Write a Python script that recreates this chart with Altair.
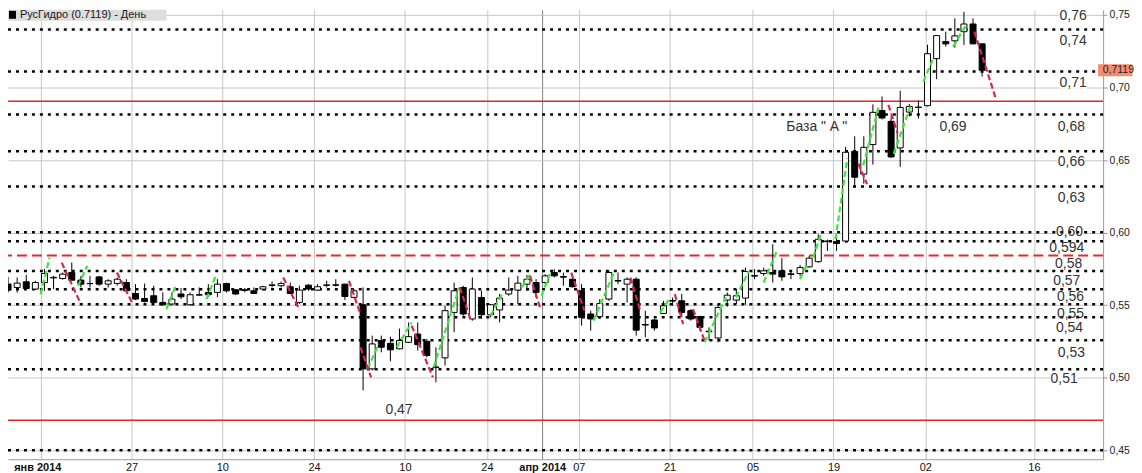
import json
import altair as alt
import pandas as pd

# ---------------- candles (one per trading session, left to right) ----------------
opens = [0.5646, 0.5622, 0.5661, 0.5611, 0.5656, 0.5688, 0.5684, 0.5725, 0.5673, 0.5650,
         0.5695, 0.5645, 0.5650, 0.5656, 0.5581, 0.5546, 0.5565, 0.5519, 0.5508, 0.5577,
         0.5503, 0.5569, 0.5588, 0.5588, 0.5649, 0.5606, 0.5606, 0.5599, 0.5611, 0.5636,
         0.5634, 0.5627, 0.5519, 0.5638, 0.5604, 0.5636, 0.5640, 0.5645, 0.5554, 0.5503,
         0.5061, 0.5256, 0.5237, 0.5199, 0.5244, 0.5301, 0.5251, 0.5070, 0.5137, 0.5450,
         0.5622, 0.5405, 0.5553, 0.5434, 0.5467, 0.5577, 0.5604, 0.5645, 0.5656, 0.5656,
         0.5725, 0.5697, 0.5679, 0.5599, 0.5439, 0.5421, 0.5542, 0.5670, 0.5645, 0.5679,
         0.5367, 0.5398, 0.5443, 0.5528, 0.5530, 0.5462, 0.5421, 0.5317, 0.5274, 0.5535,
         0.5535, 0.5549, 0.5700, 0.5718, 0.5725, 0.5737, 0.5716, 0.5718, 0.5764, 0.5800,
         0.5942, 0.5938, 0.5942, 0.6560, 0.6403, 0.6607, 0.6842, 0.6767, 0.6584, 0.6831,
         0.6863, 0.6875, 0.7199, 0.7317, 0.7322, 0.7385, 0.7438, 0.7301]
highs = [0.5695, 0.5691, 0.5709, 0.5668, 0.5750, 0.5702, 0.5725, 0.5794, 0.5702, 0.5702,
         0.5702, 0.5679, 0.5691, 0.5679, 0.5645, 0.5649, 0.5634, 0.5588, 0.5588, 0.5618,
         0.5588, 0.5622, 0.5645, 0.5679, 0.5656, 0.5611, 0.5618, 0.5622, 0.5634, 0.5663,
         0.5663, 0.5656, 0.5634, 0.5645, 0.5645, 0.5668, 0.5679, 0.5647, 0.5611, 0.5622,
         0.5290, 0.5290, 0.5283, 0.5338, 0.5381, 0.5381, 0.5267, 0.5210, 0.5496, 0.5656,
         0.5634, 0.5691, 0.5599, 0.5508, 0.5577, 0.5691, 0.5702, 0.5709, 0.5679, 0.5714,
         0.5748, 0.5725, 0.5709, 0.5645, 0.5462, 0.5542, 0.5737, 0.5725, 0.5691, 0.5691,
         0.5462, 0.5405, 0.5530, 0.5553, 0.5577, 0.5473, 0.5427, 0.5347, 0.5508, 0.5588,
         0.5611, 0.5759, 0.5748, 0.5759, 0.5920, 0.5824, 0.5737, 0.5778, 0.5840, 0.5988,
         0.5952, 0.5966, 0.6591, 0.6664, 0.6664, 0.6884, 0.6939, 0.6801, 0.6978, 0.6886,
         0.6911, 0.7295, 0.7360, 0.7385, 0.7477, 0.7522, 0.7477, 0.7303]
lows = [0.5587, 0.5587, 0.5613, 0.5604, 0.5599, 0.5611, 0.5675, 0.5670, 0.5622, 0.5622,
        0.5634, 0.5622, 0.5634, 0.5597, 0.5535, 0.5519, 0.5512, 0.5496, 0.5496, 0.5542,
        0.5496, 0.5565, 0.5558, 0.5554, 0.5588, 0.5570, 0.5588, 0.5577, 0.5599, 0.5622,
        0.5622, 0.5577, 0.5508, 0.5599, 0.5599, 0.5622, 0.5627, 0.5535, 0.5549, 0.4912,
        0.5050, 0.5175, 0.5113, 0.5196, 0.5240, 0.5187, 0.5141, 0.4969, 0.5084, 0.5313,
        0.5427, 0.5393, 0.5405, 0.5416, 0.5381, 0.5565, 0.5508, 0.5599, 0.5554, 0.5645,
        0.5691, 0.5634, 0.5622, 0.5359, 0.5324, 0.5405, 0.5530, 0.5645, 0.5519, 0.5290,
        0.5279, 0.5324, 0.5439, 0.5496, 0.5416, 0.5393, 0.5324, 0.5256, 0.5244, 0.5489,
        0.5508, 0.5503, 0.5679, 0.5702, 0.5656, 0.5668, 0.5679, 0.5702, 0.5759, 0.5793,
        0.5874, 0.5874, 0.5931, 0.6309, 0.6337, 0.6469, 0.6780, 0.6515, 0.6453, 0.6801,
        0.6786, 0.6870, 0.7058, 0.7282, 0.7274, 0.7294, 0.7299, 0.7076]
closes = [0.5604, 0.5652, 0.5615, 0.5656, 0.5718, 0.5692, 0.5714, 0.5672, 0.5645, 0.5648,
          0.5645, 0.5668, 0.5679, 0.5599, 0.5542, 0.5526, 0.5519, 0.5503, 0.5542, 0.5558,
          0.5572, 0.5572, 0.5572, 0.5645, 0.5599, 0.5577, 0.5602, 0.5581, 0.5627, 0.5640,
          0.5649, 0.5581, 0.5604, 0.5611, 0.5627, 0.5640, 0.5638, 0.5560, 0.5599, 0.5061,
          0.5233, 0.5210, 0.5192, 0.5256, 0.5283, 0.5228, 0.5153, 0.5074, 0.5462, 0.5599,
          0.5439, 0.5611, 0.5434, 0.5503, 0.5549, 0.5604, 0.5652, 0.5679, 0.5588, 0.5702,
          0.5702, 0.5693, 0.5627, 0.5416, 0.5405, 0.5512, 0.5725, 0.5666, 0.5679, 0.5328,
          0.5363, 0.5343, 0.5496, 0.5532, 0.5450, 0.5405, 0.5347, 0.5321, 0.5484, 0.5569,
          0.5565, 0.5732, 0.5704, 0.5737, 0.5714, 0.5695, 0.5712, 0.5759, 0.5824, 0.5954,
          0.5938, 0.5925, 0.6554, 0.6382, 0.6588, 0.6829, 0.6790, 0.6522, 0.6863, 0.6870,
          0.6865, 0.7233, 0.7358, 0.7301, 0.7356, 0.7438, 0.7301, 0.7119]

# ---------------- date axis (positions in session numbers) ----------------
grid_pos = [3.58, 13.56, 23.54, 33.62, 43.60, 52.60, 58.68, 62.69, 72.67, 81.78, 90.67, 100.76, 112.69]
grid_lab = ["янв 2014", "27", "10", "24", "10", "24", "апр 2014", "07", "21", "05", "19", "02", "16"]

# ---------------- drawn price levels ----------------
level_prices = [0.7586, 0.7400, 0.7110, 0.6814, 0.6561, 0.6318, 0.6003, 0.5940, 0.5735,
                0.5609, 0.5506, 0.5416, 0.5258, 0.5058, 0.4500]
red_solid = [0.6906, 0.4707]
red_dashed = [0.5843]

lab_text = ["0,76", "0,74", "0,71", "0,68", "0,66", "0,63", "0,60", "0,594", "0,58", "0,57",
            "0,56", "0,55", "0,54", "0,53", "0,51"]
lab_i = [117.0, 117.0, 117.0, 116.8, 116.8, 116.8, 116.6, 116.3, 116.5, 116.3, 116.7, 116.7,
         116.6, 116.8, 116.0]
lab_p = [0.7494, 0.7323, 0.7034, 0.6725, 0.6485, 0.6238, 0.6004, 0.5894, 0.5784, 0.5668,
         0.5558, 0.5441, 0.5345, 0.5173, 0.4988]

note_text = ['База " A "', "0,69", "0,47"]
note_i = [88.83, 103.8, 42.94]
note_p = [0.6725, 0.6725, 0.4775]

# ---------------- swing segments ----------------
seg_dir = ["up", "down", "up", "down", "up", "up", "down", "down", "down", "up",
           "up", "down", "up", "down", "up", "up", "down", "up", "down", "up",
           "down", "up", "down", "down", "up", "up", "up", "up", "up", "up",
           "down", "up", "down", "up", "up", "up", "down"]
seg_i1 = [3.58, 5.89, 7.70, 11.96, 17.39, 21.80, 30.23, 37.45, 38.72, 39.51,
          42.70, 44.33, 46.75, 49.64, 53.00, 56.43, 57.34, 58.60, 61.86, 64.32,
          68.36, 71.62, 73.24, 75.24, 76.50, 79.93, 83.00, 86.98, 88.43, 90.89,
          93.38, 93.93, 96.70, 97.29, 100.54, 103.80, 106.15]
seg_p1 = [0.5576, 0.5793, 0.5633, 0.5725, 0.5473, 0.5542, 0.5690, 0.5668, 0.5209, 0.5061,
          0.5209, 0.5359, 0.5072, 0.5622, 0.5427, 0.5622, 0.5702, 0.5565, 0.5725, 0.5393,
          0.5690, 0.5450, 0.5576, 0.5473, 0.5244, 0.5553, 0.5656, 0.5679, 0.5828, 0.5956,
          0.6478, 0.6464, 0.6881, 0.6543, 0.7041, 0.7282, 0.7385]
seg_i2 = [4.56, 7.92, 8.71, 13.70, 18.41, 22.81, 32.03, 38.64, 39.88, 40.71,
          44.33, 46.67, 49.57, 50.84, 54.26, 57.34, 58.43, 59.51, 63.31, 66.56,
          69.45, 72.64, 74.15, 76.50, 78.85, 81.38, 84.46, 87.85, 89.34, 92.19,
          94.36, 95.67, 97.72, 99.10, 101.63, 105.24, 108.49]
seg_p2 = [0.5828, 0.5519, 0.5771, 0.5508, 0.5633, 0.5702, 0.5466, 0.5450, 0.5003, 0.5233,
          0.5381, 0.5003, 0.5622, 0.5393, 0.5576, 0.5714, 0.5484, 0.5714, 0.5462, 0.5725,
          0.5462, 0.5542, 0.5370, 0.5256, 0.5553, 0.5736, 0.5874, 0.5791, 0.5999, 0.6512,
          0.6334, 0.6876, 0.6684, 0.6869, 0.7201, 0.7431, 0.6926]

last_price = 0.7119
title_text = "РусГидро (0.7119) - День"

# ---------------- frames ----------------
candles = pd.DataFrame({"i": list(range(len(opens))), "open": opens, "high": highs,
                        "low": lows, "close": closes})
candles["dir"] = ["up" if c >= o else "down" for o, c in zip(opens, closes)]
levels = pd.DataFrame({"p": level_prices})
solid = pd.DataFrame({"p": red_solid})
dashed = pd.DataFrame({"p": red_dashed})
labels = pd.DataFrame({"t": lab_text, "i": lab_i, "p": lab_p})
notes = pd.DataFrame({"t": note_text, "i": note_i, "p": note_p})
segs = pd.DataFrame({"d": seg_dir, "i1": seg_i1, "p1": seg_p1, "i2": seg_i2, "p2": seg_p2})
tag = pd.DataFrame({"p": [last_price], "t": [f"{last_price:.4f}".replace('.', ',')]})
title_df = pd.DataFrame({"t": [title_text]})

xs = alt.Scale(domain=[0.542, 119.74], nice=False, zero=False)
ys = alt.Scale(domain=[0.44382, 0.75357], nice=False, zero=False)

lab_js = json.dumps(grid_lab, ensure_ascii=False)
pos_js = json.dumps(grid_pos)
bold_test = "datum.value == 3.58 || datum.value == 58.68"
first_test = "datum.value == 3.58"

x_axis = alt.Axis(
    values=grid_pos, labelExpr=f"{lab_js}[indexof({pos_js}, datum.value)]",
    grid=True,
    gridColor={"condition": {"test": "datum.value == 58.68", "value": "#7f7f7f"}, "value": "#c6c6c6"},
    ticks=False, domainColor="#9a9a9a", labelFont="Liberation Sans Narrow, Liberation Sans",
    labelFontSize=11, labelColor="#111111", labelPadding=2, labelOverlap=False,
    labelFontWeight={"condition": {"test": bold_test, "value": "bold"}, "value": "normal"},
    labelAlign={"condition": {"test": first_test, "value": "left"}, "value": "center"},
    labelOffset={"condition": {"test": first_test, "value": -27}, "value": 0},
    title=None)
y_axis = alt.Axis(
    orient="right", values=[0.45, 0.50, 0.55, 0.60, 0.65, 0.70, 0.75],
    labelExpr="replace(format(datum.value, '.2f'), '.', ',')",
    grid=True, gridColor="#c6c6c6", tickSize=4, tickColor="#9a9a9a", domainColor="#9a9a9a",
    labelFont="Liberation Sans", labelFontSize=10.5, labelColor="#222222", labelPadding=2,
    labelOverlap=False, title=None)


def X(f):
    return alt.X(f, type="quantitative", scale=xs, axis=x_axis)


def Y(f):
    return alt.Y(f, type="quantitative", scale=ys, axis=y_axis)


bg = alt.Chart(labels).transform_filter("datum.t != '0,54'").transform_calculate(
    xa="datum.i - length(datum.t) * 0.38", xb="datum.i + length(datum.t) * 0.38",
    ya="datum.p - 0.0042", yb="datum.p + 0.0042"
).mark_rect(color="white", clip=True).encode(x=X("xa"), x2="xb:Q", y=Y("ya"), y2="yb:Q")

dots = alt.Chart(levels).mark_rule(color="black", strokeDash=[3, 5], strokeWidth=2.5,
                                   clip=True).encode(y=Y("p"))
red1 = alt.Chart(solid).mark_rule(color="#e5232b", strokeWidth=1.6, clip=True).encode(y=Y("p"))
red2 = alt.Chart(dashed).mark_rule(color="#e22a33", strokeDash=[10, 5], strokeWidth=2,
                                   clip=True).encode(y=Y("p"))

wicks = alt.Chart(candles).mark_rule(color="black", strokeWidth=1, clip=True).encode(
    x=X("i"), y=Y("low"), y2="high:Q")
bodies = alt.Chart(candles).mark_bar(size=6, stroke="black", strokeWidth=1, clip=True).encode(
    x=X("i"), y=Y("open"), y2="close:Q",
    fill=alt.Fill("dir:N", scale=alt.Scale(domain=["up", "down"], range=["white", "black"]),
                  legend=None))

seg_up = alt.Chart(segs).transform_filter("datum.d == 'up'").mark_rule(
    color="#3de63d", strokeDash=[6, 3], strokeWidth=2.2, clip=True).encode(
    x=X("i1"), y=Y("p1"), x2="i2:Q", y2="p2:Q")
seg_dn = alt.Chart(segs).transform_filter("datum.d == 'down'").mark_rule(
    color="#d6284f", strokeDash=[6, 3], strokeWidth=2.2, clip=True).encode(
    x=X("i1"), y=Y("p1"), x2="i2:Q", y2="p2:Q")

txt_style = dict(font="Liberation Sans", fontSize=14, color="#333333", clip=True)
lab_txt = alt.Chart(labels).transform_filter("datum.t != '0,54'").mark_text(**txt_style).encode(
    x=X("i"), y=Y("p"), text="t:N")
bg54 = alt.Chart(labels).transform_filter("datum.t == '0,54'").transform_calculate(
    xa="datum.i - length(datum.t) * 0.38", xb="datum.i + length(datum.t) * 0.38",
    ya="datum.p - 0.0045", yb="datum.p + 0.0052"
).mark_rect(color="white", clip=True).encode(x=X("xa"), x2="xb:Q", y=Y("ya"), y2="yb:Q")
txt54 = alt.Chart(labels).transform_filter("datum.t == '0,54'").mark_text(**txt_style).encode(
    x=X("i"), y=Y("p"), text="t:N")
note_txt = alt.Chart(notes).mark_text(**txt_style).encode(x=X("i"), y=Y("p"), text="t:N")

tag_box = alt.Chart(tag).transform_calculate(
    xa="119.74", xb="123.5", ya="datum.p - 0.0042", yb="datum.p + 0.0042"
).mark_rect(color="#f78b6d", clip=False).encode(x=X("xa"), x2="xb:Q", y=Y("ya"), y2="yb:Q")
tag_txt = alt.Chart(tag).transform_calculate(xt="120.25").mark_text(
    align="left", baseline="middle", font="Liberation Sans", fontSize=10.5, color="#222222",
    clip=False).encode(x=X("xt"), y=Y("p"), text="t:N")

title_box = alt.Chart(title_df).mark_rect(color="#dddddd").encode(
    x=alt.value(0), x2=alt.value(159), y=alt.value(0), y2=alt.value(11))
title_sq = alt.Chart(title_df).mark_rect(color="black").encode(
    x=alt.value(1), x2=alt.value(8), y=alt.value(1), y2=alt.value(9))
title_txt = alt.Chart(title_df).mark_text(
    align="left", baseline="middle", font="Liberation Sans", fontSize=11, color="#1a1a1a").encode(
    x=alt.value(12), y=alt.value(5.5), text="t:N")

chart = alt.layer(
    bg, dots, red1, red2, wicks, bodies, seg_up, seg_dn, lab_txt, bg54, txt54, note_txt,
    tag_box, tag_txt, title_box, title_sq, title_txt
).properties(width=1099, height=451, padding=0, background="white").configure_view(strokeWidth=0)

chart.save("out.html", embed_options={"renderer": "svg", "actions": False})
